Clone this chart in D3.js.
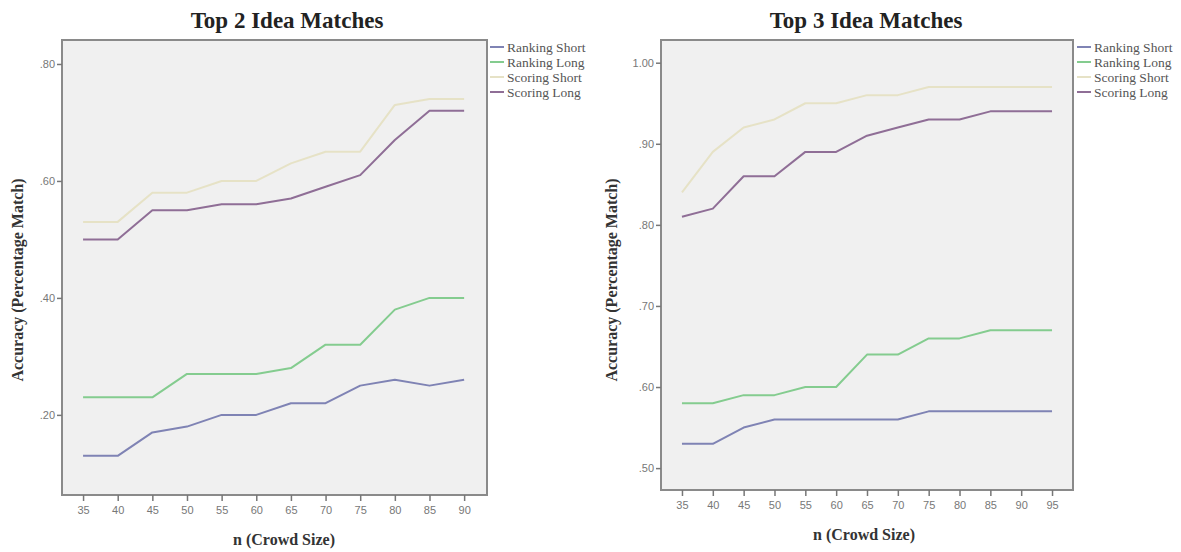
<!DOCTYPE html>
<html>
<head>
<meta charset="utf-8">
<script src="https://cdn.jsdelivr.net/npm/d3@7"></script>
<style>
  body { margin: 0; background: #fff; }
  svg { display: block; }
  .title { font-family: "Liberation Serif", "Times New Roman", serif; font-weight: bold; font-size: 23px; fill: #222; }
  .axis-label { font-family: "Liberation Serif", "Times New Roman", serif; font-weight: bold; font-size: 16px; fill: #333; }
  .tick text { font-family: "Liberation Sans", Arial, sans-serif; font-size: 11px; fill: #777; }
  .legend text { font-family: "Liberation Serif", "Times New Roman", serif; font-size: 13.5px; fill: #555; }
</style>
</head>
<body>
<script>
// series keys and colours
var seriesNames = ['Ranking Short', 'Ranking Long', 'Scoring Short', 'Scoring Long'];
var seriesColors = ['#7f83b4', '#84cc8f', '#e6e2c6', '#8f6e96'];

// Top 2 Idea Matches
var crowd2 = [35, 40, 45, 50, 55, 60, 65, 70, 75, 80, 85, 90];
var rankShort2 = [.13, .13, .17, .18, .20, .20, .22, .22, .25, .26, .25, .26];
var rankLong2  = [.23, .23, .23, .27, .27, .27, .28, .32, .32, .38, .40, .40];
var scoreShort2 = [.53, .53, .58, .58, .60, .60, .63, .65, .65, .73, .74, .74];
var scoreLong2  = [.50, .50, .55, .55, .56, .56, .57, .59, .61, .67, .72, .72];
var yTicks2 = [.20, .40, .60, .80];

// Top 3 Idea Matches
var crowd3 = [35, 40, 45, 50, 55, 60, 65, 70, 75, 80, 85, 90, 95];
var rankShort3 = [.53, .53, .55, .56, .56, .56, .56, .56, .57, .57, .57, .57, .57];
var rankLong3  = [.58, .58, .59, .59, .60, .60, .64, .64, .66, .66, .67, .67, .67];
var scoreShort3 = [.84, .89, .92, .93, .95, .95, .96, .96, .97, .97, .97, .97, .97];
var scoreLong3  = [.81, .82, .86, .86, .89, .89, .91, .92, .93, .93, .94, .94, .94];
var yTicks3 = [.50, .60, .70, .80, .90, 1.00];

var svg = d3.select('body').append('svg')
    .attr('width', 1181)
    .attr('height', 552);

function drawPanel(opt) {
  var g = svg.append('g');

  var x = d3.scaleLinear().domain(opt.xDomain).range([opt.left, opt.right]);
  var y = d3.scaleLinear().domain(opt.yDomain).range([opt.bottom, opt.top]);

  // plot background + frame
  g.append('rect')
      .attr('x', opt.left).attr('y', opt.top)
      .attr('width', opt.right - opt.left).attr('height', opt.bottom - opt.top)
      .attr('fill', '#f0f0f0')
      .attr('stroke', '#8a8a8a')
      .attr('stroke-width', 2);

  var fmt = function (d) { return d >= 1 ? d.toFixed(2) : d3.format('.2f')(d).replace(/^0/, ''); };

  var yAxis = g.append('g')
      .attr('transform', 'translate(' + opt.left + ',0)')
      .call(d3.axisLeft(y).tickValues(opt.yTicks).tickFormat(fmt).tickSize(5).tickPadding(2));
  var xAxis = g.append('g')
      .attr('transform', 'translate(0,' + opt.bottom + ')')
      .call(d3.axisBottom(x).tickValues(opt.crowd).tickSize(6).tickPadding(5));
  [xAxis, yAxis].forEach(function (a) {
    a.select('.domain').remove();
    a.selectAll('.tick line').attr('stroke', '#777').attr('stroke-width', 1.5);
  });

  var line = d3.line()
      .x(function (d, i) { return x(opt.crowd[i]); })
      .y(function (d) { return y(d); });

  opt.series.forEach(function (vals, k) {
    g.append('path')
        .datum(vals)
        .attr('fill', 'none')
        .attr('stroke', seriesColors[k])
        .attr('stroke-width', 2)
        .attr('stroke-linejoin', 'round')
        .attr('d', line);
  });

  g.append('text')
      .attr('class', 'title')
      .attr('x', opt.titleX).attr('y', 28)
      .attr('text-anchor', 'middle')
      .text(opt.title);

  g.append('text')
      .attr('class', 'axis-label')
      .attr('x', opt.xLabelX).attr('y', opt.xLabelY)
      .attr('text-anchor', 'middle')
      .text('n (Crowd Size)');

  g.append('text')
      .attr('class', 'axis-label')
      .attr('transform', 'translate(' + opt.yLabelX + ',280) rotate(-90)')
      .attr('text-anchor', 'middle')
      .text('Accuracy (Percentage Match)');

  // legend, clipped at the panel edge like the source
  var clipId = 'clip' + opt.title.replace(/\s/g, '');
  svg.append('clipPath').attr('id', clipId)
    .append('rect')
      .attr('x', opt.legendX - 5).attr('y', 30)
      .attr('width', opt.legendClip).attr('height', 80);

  var legend = g.append('g')
      .attr('class', 'legend')
      .attr('clip-path', 'url(#' + clipId + ')');
  var items = legend.selectAll('g')
      .data(seriesNames)
    .enter().append('g')
      .attr('transform', function (d, i) { return 'translate(' + opt.legendX + ',' + (47 + i * 15) + ')'; });
  items.append('line')
      .attr('x1', 0).attr('x2', 14)
      .attr('stroke', function (d, i) { return seriesColors[i]; })
      .attr('stroke-width', 2);
  items.append('text')
      .attr('x', 17).attr('dy', '0.35em')
      .text(function (d) { return d; });
}

drawPanel({
  title: 'Top 2 Idea Matches', titleX: 287,
  left: 62, right: 487, top: 40, bottom: 495,
  xDomain: [31.96, 93.3], yDomain: [0.063, 0.841],
  crowd: crowd2, yTicks: yTicks2,
  series: [rankShort2, rankLong2, scoreShort2, scoreLong2],
  xLabelX: 284, xLabelY: 545, yLabelX: 23,
  legendX: 490, legendClip: 101
});

drawPanel({
  title: 'Top 3 Idea Matches', titleX: 866,
  left: 661, right: 1073, top: 40, bottom: 490,
  xDomain: [31.6, 98.4], yDomain: [0.473, 1.028],
  crowd: crowd3, yTicks: yTicks3,
  series: [rankShort3, rankLong3, scoreShort3, scoreLong3],
  xLabelX: 864, xLabelY: 540, yLabelX: 617,
  legendX: 1077, legendClip: 110
});
</script>
</body>
</html>
